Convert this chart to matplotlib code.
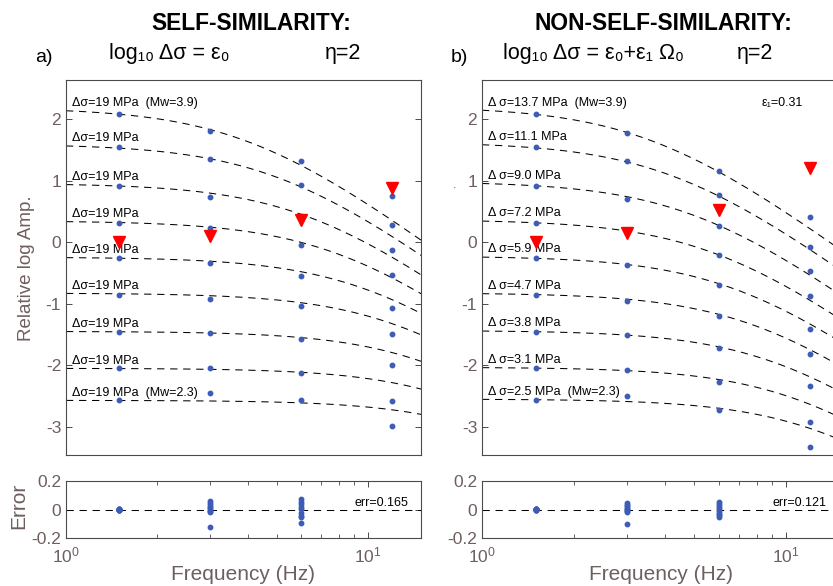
import numpy as np
import matplotlib
matplotlib.use("Agg")
import matplotlib.pyplot as plt
from matplotlib.ticker import LogLocator, NullLocator, NullFormatter, FixedLocator

plt.rcParams['font.family'] = ['Liberation Sans', 'DejaVu Sans']
plt.rcParams['mathtext.fontset'] = 'custom'
plt.rcParams['mathtext.rm'] = 'Liberation Sans'
plt.rcParams['mathtext.it'] = 'Liberation Sans:italic'
plt.rcParams['mathtext.bf'] = 'Liberation Sans:bold'
plt.rcParams['axes.unicode_minus'] = False

# ---------------- data ----------------
freqs = [1.5, 3.0, 6.0, 12.0]
mw_tags = ['(Mw=3.9)', '', '', '', '', '', '', '', '(Mw=2.3)']

# self-similar model (constant stress drop)
stress_self = [19, 19, 19, 19, 19, 19, 19, 19, 19]
level_self = [2.19, 1.60, 0.96, 0.35, -0.24, -0.825, -1.447, -2.048, -2.569]
fc_self = [4.0, 5.06, 6.39, 8.08, 10.2, 12.9, 16.3, 20.6, 26.0]

amp_self_f15 = [2.086, 1.545, 0.911, 0.320, -0.260, -0.862, -1.452, -2.049, -2.569]
amp_self_f3 = [1.810, 1.355, 0.737, 0.228, -0.341, -0.915, -1.468, -2.049, -2.455]
amp_self_f6 = [1.317, 0.938, 0.428, -0.044, -0.540, -1.041, -1.566, -2.130, -2.569]
amp_self_f12 = [0.753, 0.281, -0.125, -0.532, -1.068, -1.485, -1.995, -2.585, -2.992]
tri_self = [0.0, 0.11, 0.36, 0.88]

err_self_f15 = [0.004, 0.002, 0.001, 0.0, 0.0, -0.001, -0.002, 0.003, -0.003]
err_self_f3 = [0.061, 0.045, 0.030, 0.018, 0.008, -0.003, -0.012, -0.020, -0.124]
err_self_f6 = [0.071, 0.054, 0.036, 0.015, 0.001, -0.026, -0.043, -0.054, -0.094]
err_self_total = 0.165

# non-self-similar model (stress drop scales with moment)
stress_nss = [13.7, 11.1, 9.0, 7.2, 5.9, 4.7, 3.8, 3.1, 2.5]
level_nss = [2.210, 1.632, 0.990, 0.370, -0.2225, -0.822, -1.433, -2.031, -2.5485]

amp_nss_f15 = [2.086, 1.545, 0.911, 0.320, -0.260, -0.862, -1.452, -2.049, -2.569]
amp_nss_f3 = [1.784, 1.322, 0.699, 0.167, -0.374, -0.959, -1.512, -2.081, -2.499]
amp_nss_f6 = [1.154, 0.769, 0.271, -0.200, -0.699, -1.203, -1.724, -2.276, -2.732]
amp_nss_f12 = [0.411, -0.070, -0.460, -0.878, -1.415, -1.821, -2.330, -2.915, -3.329]
tri_nss = [0.0, 0.157, 0.52, 1.215]

err_nss_f15 = [0.005, 0.003, 0.001, 0.0, -0.001, 0.002, -0.002, 0.004, 0.0]
err_nss_f3 = [0.043, 0.033, 0.022, 0.012, 0.004, -0.003, -0.010, -0.015, -0.100]
err_nss_f6 = [0.050, 0.040, 0.026, 0.012, 0.0, -0.014, -0.028, -0.040, -0.050]
err_nss_total = 0.121
eps1 = 0.31

eta = 2.0
falloff = 1.83
fmin, fmax = 1.0, 15.0

# ---------------- style ----------------
W, H = 833, 586
frame_col = '#4a4a4a'
label_col = '#6e5e5e'
dot_col = '#3d5cb8'
dash = (0, (7, 5.5))


def rect(x0, y0, x1, y1):
    return [x0 / W, 1 - y1 / H, (x1 - x0) / W, (y1 - y0) / H]


def spectrum(f, level, fc):
    return level - falloff * np.log10(1 + (f / fc) ** eta)


def style_axes(ax):
    for s in ax.spines.values():
        s.set_color(frame_col)
        s.set_linewidth(0.8)
    ax.tick_params(which='both', direction='in', top=True, right=True,
                   color=frame_col, labelcolor=label_col, labelsize=12.5)
    ax.tick_params(which='major', length=4.5, width=0.7)
    ax.tick_params(which='minor', length=3, width=0.6)


fig = plt.figure(figsize=(W / 100, H / 100), dpi=100)

panels = [
    dict(main=rect(66, 79.5, 421.2, 454.5), err=rect(66, 480.7, 421.2, 538.3),
         stress=stress_self, level=level_self,
         fc=fc_self,
         amps=[amp_self_f15, amp_self_f3, amp_self_f6, amp_self_f12],
         tri=tri_self,
         errs=[err_self_f15, err_self_f3, err_self_f6], etot=err_self_total,
         fmt='Δσ={:.0f} MPa'),
    dict(main=rect(482, 79.5, 839.5, 454.5), err=rect(482, 480.7, 839.5, 538.3),
         stress=stress_nss, level=level_nss,
         fc=[fc * (s / 19.0) ** (1 / 3) for fc, s in zip(fc_self, stress_nss)],
         amps=[amp_nss_f15, amp_nss_f3, amp_nss_f6, amp_nss_f12],
         tri=tri_nss,
         errs=[err_nss_f15, err_nss_f3, err_nss_f6], etot=err_nss_total,
         fmt='Δ σ={:.1f} MPa'),
]

fgrid = np.logspace(np.log10(fmin), np.log10(fmax), 300)

for p in panels:
    ax = fig.add_axes(p['main'])
    ax.set_xscale('log')
    ax.set_xlim(fmin, fmax)
    ax.set_ylim(-3.45, 2.65)
    style_axes(ax)
    ax.xaxis.set_major_locator(NullLocator())
    ax.xaxis.set_minor_locator(NullLocator())
    ax.set_yticks([-3, -2, -1, 0, 1, 2])

    for i, (lev, fc) in enumerate(zip(p['level'], p['fc'])):
        ax.plot(fgrid, spectrum(fgrid, lev, fc), color='black', lw=0.75, ls=dash)
        txt = p['fmt'].format(p['stress'][i])
        if mw_tags[i]:
            txt += '  ' + mw_tags[i]
        y0 = spectrum(1.0, lev, fc)
        ax.text(1.045, y0 + 0.125, txt, fontsize=9, ha='left', va='center')

    for f, a in zip(freqs, p['amps']):
        ax.plot([f] * len(a), a, 'o', ms=3.2, color=dot_col, mec=dot_col, zorder=3)
    ax.plot(freqs, p['tri'], 'v', ms=8, color='red', mec='red', zorder=4)

    if p is panels[1]:
        ax.text(8.3, 2.26, 'ε₁={:.2f}'.format(eps1), fontsize=9, ha='left', va='center')

    ae = fig.add_axes(p['err'])
    ae.set_xscale('log')
    ae.set_xlim(fmin, fmax)
    ae.set_ylim(-0.2, 0.2)
    style_axes(ae)
    ae.tick_params(axis='x', which='major', pad=5)
    ae.xaxis.set_major_locator(LogLocator(base=10))
    ae.xaxis.set_minor_locator(LogLocator(base=10, subs=np.arange(2, 10)))
    ae.xaxis.set_minor_formatter(NullFormatter())
    ae.yaxis.set_major_locator(FixedLocator([-0.2, 0, 0.2]))
    ae.set_yticklabels(['-0.2', '0', '0.2'])
    ae.axhline(0, color='black', lw=0.75, ls=dash)
    for f, e in zip(freqs[:3], p['errs']):
        ae.plot([f] * len(e), e, 'o', ms=3.2, color=dot_col, mec=dot_col, zorder=3)
    ae.text(9.0, 0.004, 'err={:.3f}'.format(p['etot']), fontsize=9, ha='left', va='bottom')

# titles and labels
fig.text(251.5 / W, 1 - 23 / H, 'SELF-SIMILARITY:', fontsize=16.4, fontweight='bold',
         ha='center', va='center')
fig.text(663 / W, 1 - 23 / H, 'NON-SELF-SIMILARITY:', fontsize=16.4, fontweight='bold',
         ha='center', va='center')
fig.text(109 / W, 1 - 53 / H, 'log₁₀ Δσ = ε₀', fontsize=15.5, ha='left', va='center')
fig.text(325 / W, 1 - 53 / H, 'η=2', fontsize=15.5, ha='left', va='center')
fig.text(503 / W, 1 - 53 / H, 'log₁₀ Δσ = ε₀+ε₁ Ω₀', fontsize=15.5, ha='left', va='center')
fig.text(737 / W, 1 - 53 / H, 'η=2', fontsize=15.5, ha='left', va='center')
fig.text(44 / W, 1 - 57 / H, 'a)', fontsize=14, ha='center', va='center')
fig.text(459 / W, 1 - 57 / H, 'b)', fontsize=14, ha='center', va='center')

fig.text(27 / W, 1 - 268 / H, 'Relative log Amp.', fontsize=13.5, rotation=90,
         ha='center', va='center', color=label_col)
fig.text(455 / W, 1 - 185 / H, '.', fontsize=9, ha='center', va='center', color=label_col)
fig.text(19 / W, 1 - 506 / H, 'Error', fontsize=15, rotation=90,
         ha='center', va='center', color=label_col)
fig.text(243 / W, 1 - 575 / H, 'Frequency (Hz)', fontsize=15, ha='center', va='center',
         color=label_col)
fig.text(661 / W, 1 - 575 / H, 'Frequency (Hz)', fontsize=15, ha='center', va='center',
         color=label_col)

fig.savefig('out.png', dpi=100)
